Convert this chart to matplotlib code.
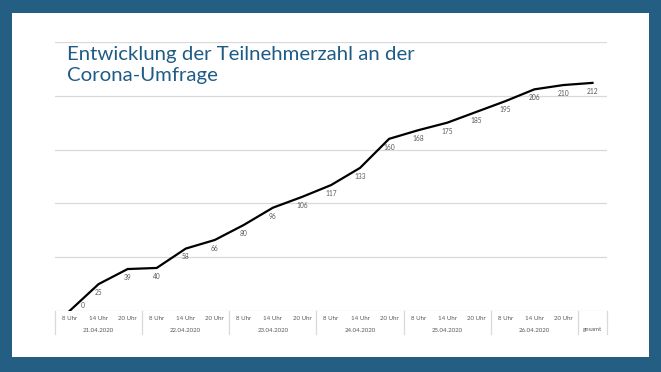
import matplotlib.pyplot as plt
from matplotlib.patches import Rectangle
from matplotlib.lines import Line2D
import matplotlib.transforms as mtransforms

plt.rcParams['font.family'] = ['Lato', 'DejaVu Sans']

# data
dates = ['21.04.2020', '22.04.2020', '23.04.2020', '24.04.2020', '25.04.2020', '26.04.2020']
hours = ['8 Uhr', '14 Uhr', '20 Uhr']
total_label = 'gesamt'
participants = [0, 25, 39, 40, 58, 66, 80, 96, 106, 117, 133, 160,
                168, 175, 185, 195, 206, 210, 212]

W, H = 661, 372
border = '#245e82'
title_col = '#1f5c85'
grid_col = '#d9d9d9'
label_col = '#595959'

fig = plt.figure(figsize=(W / 100, H / 100), dpi=100, facecolor=border)

# white slide
fig.patches.append(Rectangle((12 / W, 1 - 357 / H), (649 - 12) / W, (357 - 13) / H,
                             transform=fig.transFigure, facecolor='white',
                             edgecolor='none', zorder=-1))

ax = fig.add_axes([55 / W, 1 - 311 / H, (607 - 55) / W, (311 - 42) / H])
ax.set_facecolor('none')
ax.set_zorder(2)

x = list(range(len(participants)))
ax.plot(x, participants, color='black', lw=1.6, zorder=3, solid_joinstyle='miter')

for i, v in enumerate(participants):
    if v == 0:
        ax.annotate(str(v), (i, v), xytext=(9.5, 4), textcoords='offset points',
                    ha='center', va='center', fontsize=4.8, color=label_col)
    else:
        ax.annotate(str(v), (i, v), xytext=(0, -6), textcoords='offset points',
                    ha='center', va='center', fontsize=4.8, color=label_col)

ax.set_xlim(-0.5, len(participants) - 0.5)
ax.set_ylim(0, 250)
ax.set_yticks([0, 50, 100, 150, 200, 250])
ax.yaxis.grid(True, color=grid_col, lw=0.9)
ax.set_axisbelow(True)
ax.set_xticks([])
ax.tick_params(left=False, labelleft=False)
for s in ax.spines.values():
    s.set_visible(False)

# category table under the axis
trans = mtransforms.blended_transform_factory(ax.transData, ax.transAxes)
px = 1 / (311 - 42)
n_hours = len(hours)
for d, date in enumerate(dates):
    for h, hour in enumerate(hours):
        ax.text(d * n_hours + h, -7 * px, hour, transform=trans, ha='center',
                va='center', fontsize=4.4, color=label_col)
    ax.text(d * n_hours + 1, -19 * px, date, transform=trans, ha='center',
            va='center', fontsize=4.4, color=label_col)
ax.text(len(participants) - 1, -19 * px, total_label, transform=trans,
        ha='center', va='center', fontsize=4.4, color=label_col)

seps = [d * n_hours - 0.5 for d in range(len(dates) + 1)] + [len(participants) - 0.5]
for s in seps:
    ax.add_line(Line2D([s, s], [0, -23 * px], transform=trans, color=grid_col,
                       lw=0.9, clip_on=False))

fig.text(67 / W, 1 - 46 / H, 'Entwicklung der Teilnehmerzahl an der\nCorona-Umfrage',
         ha='left', va='top', fontsize=14.7, color=title_col, linespacing=1.3)

fig.savefig('out.png', dpi=100, facecolor=border)
